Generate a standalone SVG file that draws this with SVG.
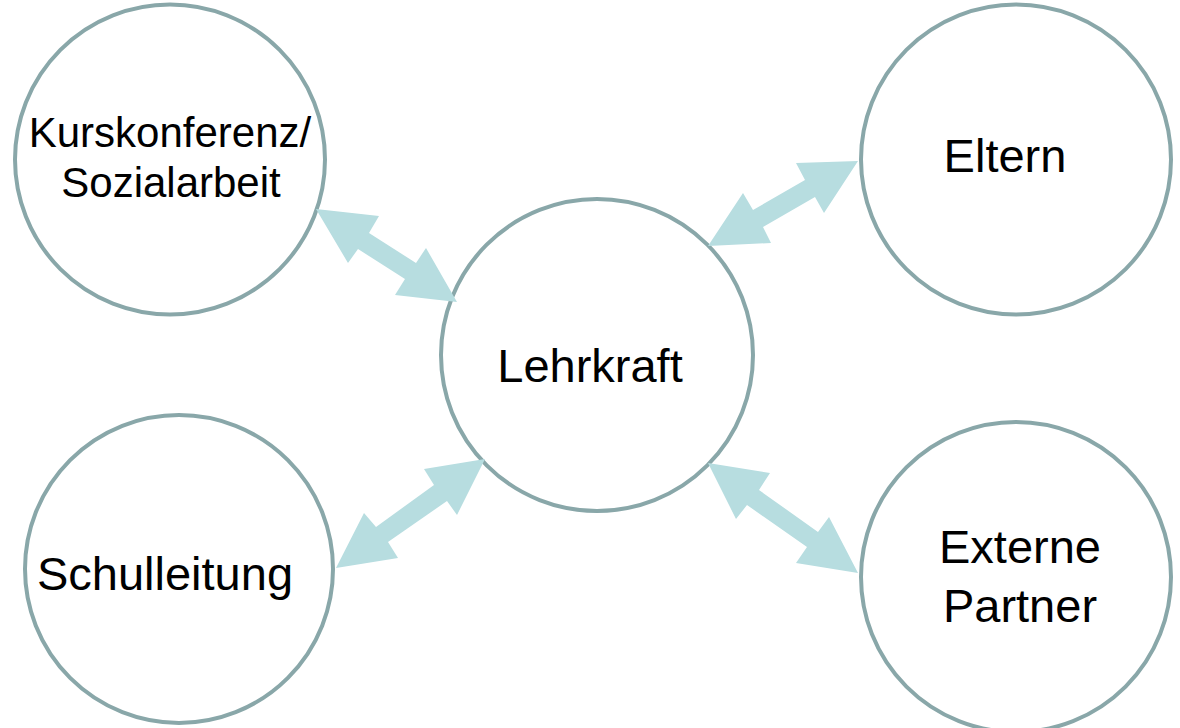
<svg xmlns="http://www.w3.org/2000/svg" width="1180" height="728" viewBox="0 0 1180 728">
<style>
.node{fill:#ffffff;stroke:#89a7a9;stroke-width:4}
.lbl{font-family:"Liberation Sans",Arial,sans-serif;font-size:47px;fill:#000;text-anchor:middle}
.arr{fill:#b7dde0;stroke:none}
</style>
<rect width="1180" height="728" fill="#ffffff"/>
<g id="kurskonferenz">
<circle class="node" cx="170" cy="159.5" r="155"/>
<text class="lbl" style="font-size:42px" x="170" y="147">Kurskonferenz/</text>
<text class="lbl" style="font-size:42px" x="171" y="197">Sozialarbeit</text>
</g>
<g id="eltern">
<circle class="node" cx="1016" cy="159.5" r="155"/>
<text class="lbl" x="1005" y="172">Eltern</text>
</g>
<g id="lehrkraft">
<circle class="node" cx="597" cy="355" r="156"/>
<text class="lbl" x="590" y="382">Lehrkraft</text>
</g>
<g id="schulleitung">
<circle class="node" cx="179" cy="569" r="154"/>
<text class="lbl" x="165" y="590">Schulleitung</text>
</g>
<g id="externe">
<circle class="node" cx="1016" cy="577" r="155"/>
<text class="lbl" x="1020" y="563">Externe</text>
<text class="lbl" x="1020" y="622">Partner</text>
</g>
<g id="connectors">
<polygon class="arr" points="316,209 379,216 369,233 416,263 426,248 457,302 395,295 405,279 358,249 348,263"/>
<polygon class="arr" points="858,161 824,213 815,197 763,227 771,243 708,246 743,193 753,210 805,180 796,163"/>
<polygon class="arr" points="485,459 457,515 447,501 388,542 398,558 336,568 364,513 376,527 434,485 424,469"/>
<polygon class="arr" points="708,463 770,473 759,490 818,532 829,517 858,573 796,563 807,547 747,505 736,519"/>
</g>
</svg>
